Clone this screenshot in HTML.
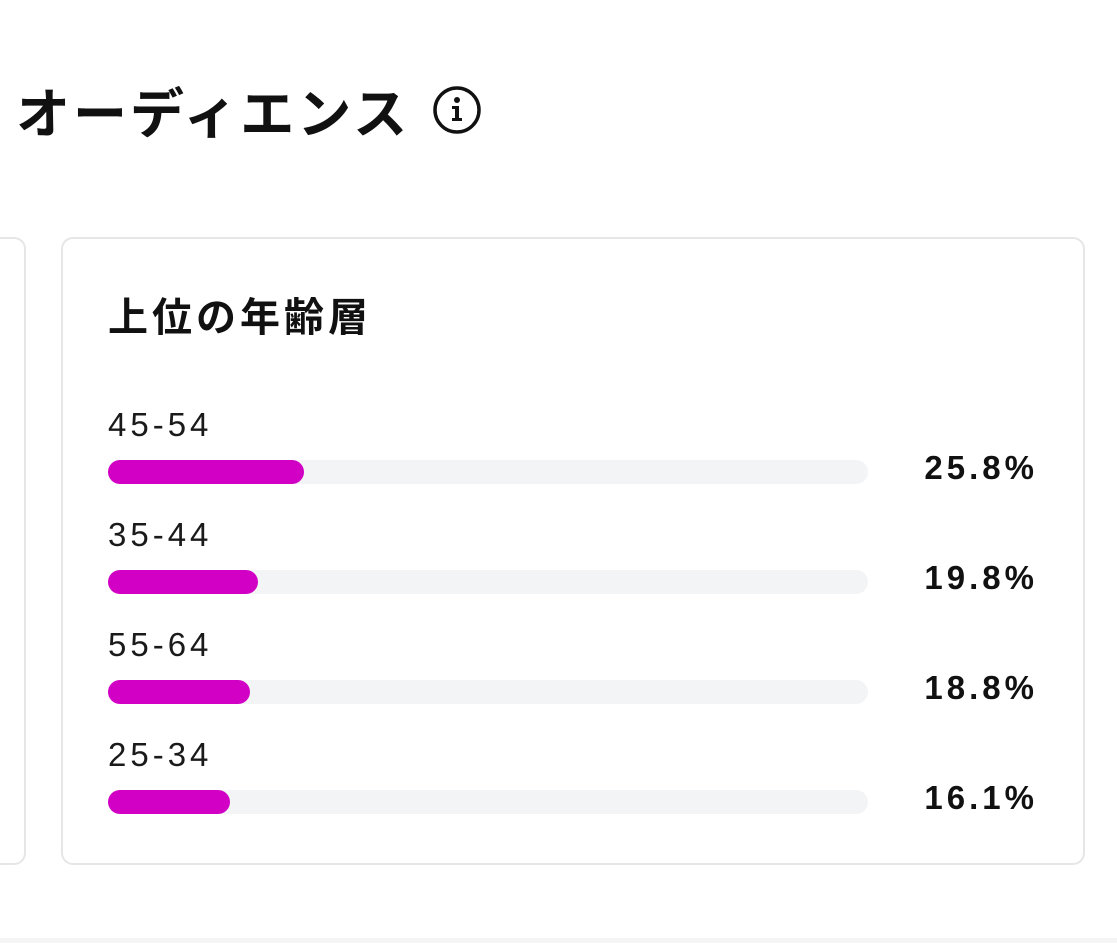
<!DOCTYPE html>
<html><head><meta charset="utf-8"><style>
html,body{margin:0;padding:0;width:1117px;height:943px;background:#fff;overflow:hidden;font-family:"Liberation Sans","Noto Sans CJK JP",sans-serif;color:#111;}
.abs{position:absolute}
h1{position:absolute;left:16px;top:72px;margin:0;font-size:54px;font-weight:700;line-height:76px;font-family:"Noto Sans CJK JP",sans-serif;letter-spacing:3px}
.card{position:absolute;border:2px solid #e6e6e6;border-radius:12px;box-sizing:border-box;background:#fff}
.sub{position:absolute;left:108px;top:284px;font-size:40px;font-weight:700;font-family:"Noto Sans CJK JP",sans-serif;line-height:60px;letter-spacing:4px}
.lbl{position:absolute;left:108px;font-size:33px;line-height:40px;color:#1a1a1a;letter-spacing:4px}
.track{position:absolute;left:108px;width:760px;height:24px;background:#f3f4f6;border-radius:12px;overflow:hidden}
.fill{position:absolute;left:0;top:0;height:24px;background:#d100c4;border-radius:0 12px 12px 0}
.pct{position:absolute;right:79px;font-size:33px;font-weight:700;line-height:40px;text-align:right;letter-spacing:4px}
</style></head><body>
<h1>オーディエンス</h1>
<svg class="abs" style="left:432px;top:85px" width="50" height="50" viewBox="0 0 50 50">
<circle cx="25" cy="25" r="22" fill="none" stroke="#111" stroke-width="3.5"/>
<circle cx="25" cy="15" r="3" fill="#111"/>
<path d="M20 21h7v12h3v3H20v-3h3v-9h-3z" fill="#111"/>
</svg>
<div class="card" style="left:-20px;top:237px;width:46px;height:628px"></div>
<div class="card" style="left:61px;top:237px;width:1024px;height:628px"></div>
<div class="sub">上位の年齢層</div>

<div class="lbl" style="top:405px">45-54</div>
<div class="track" style="top:460px"><div class="fill" style="width:196px"></div></div>
<div class="pct" style="top:448px">25.8%</div>

<div class="lbl" style="top:515px">35-44</div>
<div class="track" style="top:570px"><div class="fill" style="width:150px"></div></div>
<div class="pct" style="top:558px">19.8%</div>

<div class="lbl" style="top:625px">55-64</div>
<div class="track" style="top:680px"><div class="fill" style="width:142px"></div></div>
<div class="pct" style="top:668px">18.8%</div>

<div class="lbl" style="top:735px">25-34</div>
<div class="track" style="top:790px"><div class="fill" style="width:122px"></div></div>
<div class="pct" style="top:778px">16.1%</div>

<div class="abs" style="left:0;top:938px;width:1117px;height:5px;background:#f5f5f5"></div>
</body></html>
